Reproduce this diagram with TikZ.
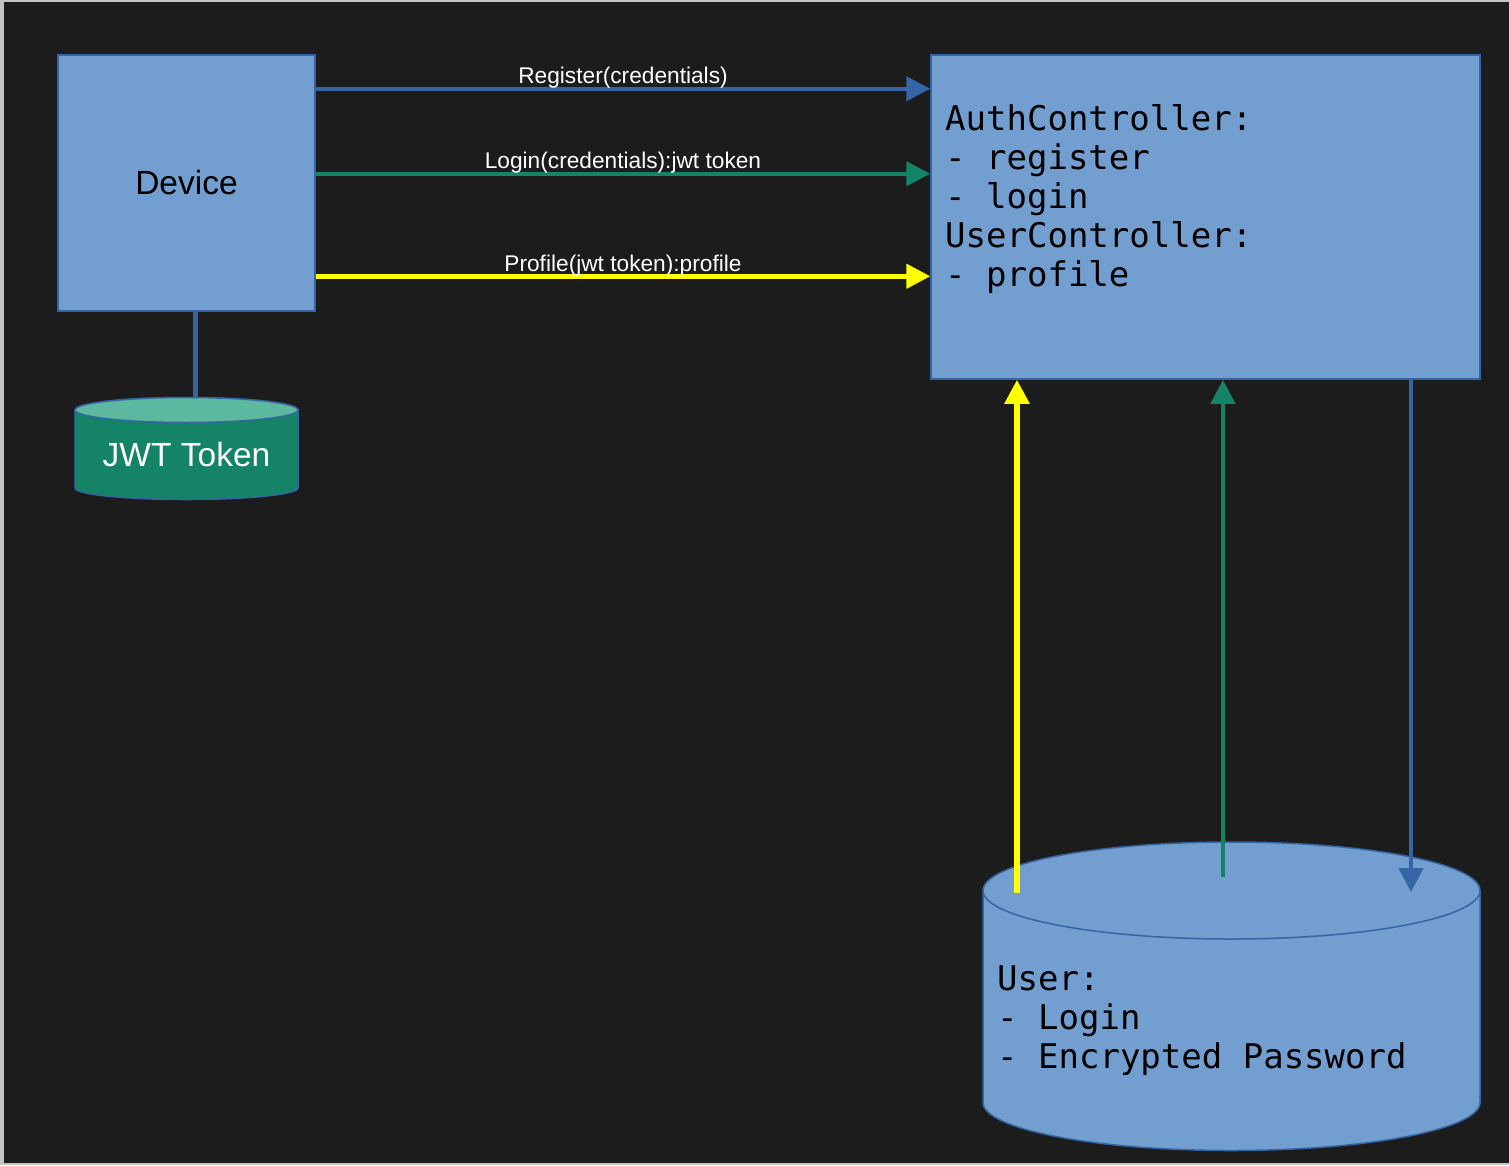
\documentclass[tikz,border=0pt]{standalone}
\usepackage{fontspec}
\setmainfont{Liberation Sans}
\newfontfamily\codefont{DejaVu Sans Mono}
\usetikzlibrary{arrows.meta}
\definecolor{bg}{HTML}{1C1C1C}
\definecolor{framegray}{HTML}{C4C4C4}
\definecolor{boxfill}{HTML}{729FCF}
\definecolor{boxline}{HTML}{3465A4}
\definecolor{tokgreen}{RGB}{21,132,102}
\definecolor{toklight}{RGB}{92,184,158}
\definecolor{reqyellow}{HTML}{FFFF00}
\begin{document}
\begin{tikzpicture}[x=1pt,y=-1pt,box/.style={rectangle,draw=boxline,fill=boxfill,line width=1.5pt,inner sep=0pt},store/.style={draw=boxline,line width=1.5pt},code/.style={anchor=north west,inner sep=0pt,align=left,font=\codefont\fontsize{34}{39}\selectfont},lbl/.style={text=white,inner sep=0pt,anchor=base,yshift=5pt,font=\fontsize{22.7}{26}\selectfont},call/.style={line width=4.5pt,-{Triangle[length=24pt,width=24pt]}}]
\def\dreg{-34.5pt};
\def\dlog{-119.5pt};
\def\dpro{-222pt};

\useasboundingbox (0,0) rectangle (1509,1165);
\fill[framegray] (0,0) rectangle (1509,1165);
\fill[bg] (4,2) rectangle (1509,1163);

\node[box,minimum width=257pt,minimum height=256pt,font=\fontsize{33.5}{40}\selectfont] (device) at (186.5,183) {Device};
\node[box,minimum width=549pt,minimum height=324pt] (auth) at (1205.5,217) {};
\node[code] (authtext) at (945,104) {AuthController:\\- register\\- login\\UserController:\\- profile};

% jwt token store
\filldraw[store,fill=tokgreen] (75,410) -- (75,488) arc[start angle=180,end angle=360,x radius=111.5pt,y radius=11.5pt] -- (298,410) arc[start angle=0,end angle=180,x radius=111.5pt,y radius=12.5pt] -- cycle;
\filldraw[store,fill=toklight] (186.5,410) ellipse[x radius=111.5pt,y radius=12.5pt];
\node[text=white,font=\fontsize{33.5}{40}\selectfont] (jwttext) at (186.5,455) {JWT Token};
\coordinate (jwttop) at (195.5,398);
\draw[boxline,line width=4.5pt] (device.south -| jwttop) -- (jwttop);

% user store
\filldraw[store,fill=boxfill] (983,890.5) -- (983,1102.5) arc[start angle=180,end angle=360,x radius=248.5pt,y radius=48pt] -- (1480,890.5) arc[start angle=0,end angle=180,x radius=248.5pt,y radius=48.5pt] -- cycle;
\draw[store] (983,890.5) arc[start angle=180,end angle=360,x radius=248.5pt,y radius=48.5pt];
\node[code] (usertext) at (997,965) {User:\\- Login\\- Encrypted Password};

% calls from the device
\draw[call,boxline] ([yshift=\dreg]device.north east) -- ([yshift=\dreg]auth.north west) node[lbl,midway] {Register(credentials)};
\draw[call,tokgreen] ([yshift=\dlog]device.north east) -- ([yshift=\dlog]auth.north west) node[lbl,midway] {Login(credentials):jwt token};
\draw[call,reqyellow,line width=5pt] ([yshift=\dpro]device.north east) -- ([yshift=\dpro]auth.north west) node[lbl,midway] {Profile(jwt token):profile};

% controllers and user store
\coordinate (yfoot) at (1017,893);
\coordinate (gfoot) at (1223,877);
\coordinate (bfoot) at (1411,892);
\draw[call,reqyellow,line width=5.5pt] (yfoot) -- (yfoot |- auth.south);
\draw[call,tokgreen] (gfoot) -- (gfoot |- auth.south);
\draw[call,boxline] (bfoot |- auth.south) -- (bfoot);
\end{tikzpicture}
\end{document}
